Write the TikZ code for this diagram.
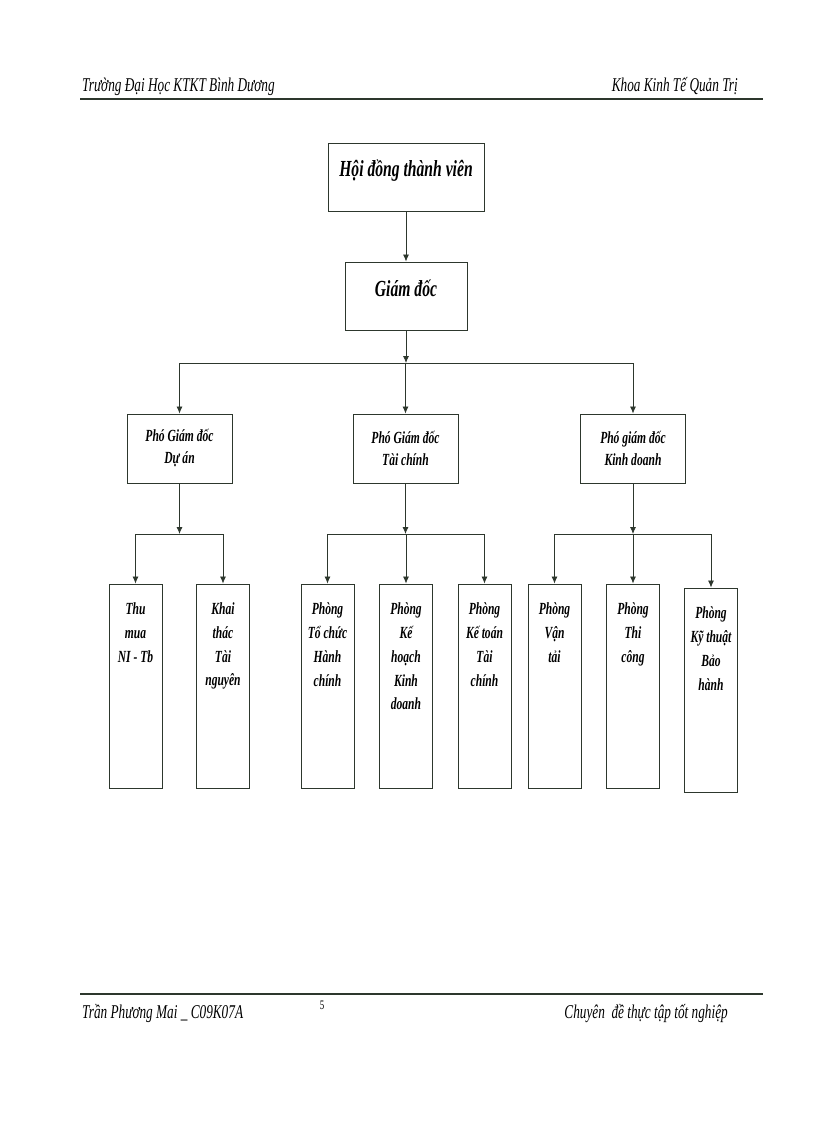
\documentclass[tikz,border=0pt]{standalone}
\usepackage{fontspec}
\setmainfont{Liberation Serif}[FakeStretch=0.68]
\usepackage{tikz}
\usetikzlibrary{arrows.meta,positioning}
\definecolor{linegray}{RGB}{45,55,45}

\tikzset{
  box/.style={draw=linegray, line width=0.9pt, inner sep=0pt},
  topbox/.style={box, font=\bfseries\itshape\fontsize{23}{27}\selectfont, text height=14pt, text depth=14pt},
  vicebox/.style={box, minimum width=105pt, minimum height=69pt, align=center, font=\bfseries\itshape\fontsize{17}{22}\selectfont},
  unitbox/.style={box, minimum width=53pt, minimum height=204pt},
  unittext/.style={anchor=north, yshift=-16pt, align=center, font=\bfseries\itshape\fontsize{17}{23.7}\selectfont},
  arr/.style={draw=linegray, line width=0.8pt, -{Latex[length=7pt,width=6pt]}},
  bus/.style={draw=linegray, line width=0.8pt},
  rule/.style={draw=linegray, line width=2.6pt},
  pagetext/.style={font=\itshape\fontsize{19.5}{21}\selectfont, inner sep=0pt}
}

\begin{document}
\begin{tikzpicture}[x=1pt, y=-1pt]
\useasboundingbox[fill=white] (0,0) rectangle (816,1123);

%Header
\node[pagetext, anchor=base west] (school) at (82,92) {Trường Đại Học KTKT Bình Dương};
\node[pagetext, anchor=base east] (faculty) at (738,92) {Khoa Kinh Tế Quản Trị};
\draw[rule] (80,99) -- (763,99);

%Top
\node[topbox, minimum width=156pt, minimum height=68pt] (hdtv) at (406,177) {Hội đồng thành viên};
\node[topbox, minimum width=122pt, minimum height=68pt] (gd) at (406,296) {Giám đốc};
\draw[arr] (hdtv) -- (gd);

%Deputies
\node[vicebox] (pgdda) at (179.5,448.5) {Phó Giám đốc\\Dự án};
\node[vicebox] (pgdtc) at (405.5,448.5) {Phó Giám đốc\\Tài chính};
\node[vicebox] (pgdkd) at (633,448.5) {Phó giám đốc\\Kinh doanh};

\coordinate (bus1) at (406,363);
\draw[arr] (gd) -- (gd |- bus1);
\draw[bus] (pgdda |- bus1) -- (pgdkd |- bus1);
\foreach \v in {pgdda,pgdtc,pgdkd}
  \draw[arr] (\v |- bus1) -- (\v);

%Units
\node[unitbox, label={[unittext]north:Thu\\mua\\NI - Tb}] (thumua) at (135.5,686) {};
\node[unitbox, label={[unittext]north:Khai\\thác\\Tài\\nguyên}] (khaithac) at (223,686) {};
\node[unitbox, label={[unittext]north:Phòng\\Tổ chức\\Hành\\chính}] (tochuc) at (327.5,686) {};
\node[unitbox, label={[unittext]north:Phòng\\Kế\\hoạch\\Kinh\\doanh}] (kehoach) at (406,686) {};
\node[unitbox, label={[unittext]north:Phòng\\Kế toán\\Tài\\chính}] (ketoan) at (484.5,686) {};
\node[unitbox, label={[unittext]north:Phòng\\Vận\\tải}] (vantai) at (554.5,686) {};
\node[unitbox, label={[unittext]north:Phòng\\Thi\\công}] (thicong) at (633,686) {};
\node[unitbox, label={[unittext]north:Phòng\\Kỹ thuật\\Bảo\\hành}] (kythuat) at (711,690) {};

\coordinate (bus2) at (0,534);
%Du an
\draw[arr] (pgdda) -- (pgdda |- bus2);
\draw[bus] (thumua |- bus2) -- (khaithac |- bus2);
\foreach \u in {thumua,khaithac}
  \draw[arr] (\u |- bus2) -- (\u);
%Tai chinh
\draw[arr] (pgdtc) -- (pgdtc |- bus2);
\draw[bus] (tochuc |- bus2) -- (ketoan |- bus2);
\foreach \u in {tochuc,kehoach,ketoan}
  \draw[arr] (\u |- bus2) -- (\u);
%Kinh doanh
\draw[arr] (pgdkd) -- (pgdkd |- bus2);
\draw[bus] (vantai |- bus2) -- (kythuat |- bus2);
\foreach \u in {vantai,thicong,kythuat}
  \draw[arr] (\u |- bus2) -- (\u);

%Footer
\draw[rule] (80,994) -- (763,994);
\node[pagetext, anchor=base west] (author) at (82,1018) {Trần Phương Mai \_ C09K07A};
\node[font=\fontsize{13}{15}\selectfont, inner sep=0pt] (page) at (322,1005) {5};
\node[pagetext, anchor=base east] (topic) at (728,1018) {Chuyên\ \ đề thực tập tốt nghiệp};
\end{tikzpicture}
\end{document}
